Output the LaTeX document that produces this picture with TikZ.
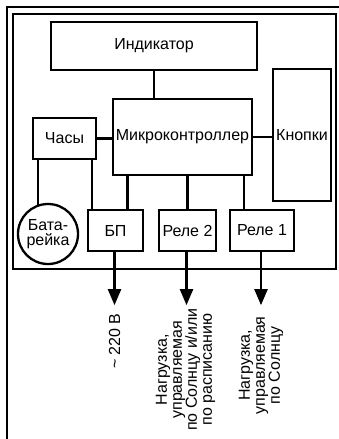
\documentclass[tikz,border=0pt]{standalone}
\usepackage{fontspec}
\setmainfont{Liberation Sans}
\usepackage{tikz}
\usetikzlibrary{positioning}
\usetikzlibrary{arrows.meta,shapes}
\usetikzlibrary{calc}
\tikzstyle{block}=[rectangle,draw,line width=2.3pt,inner sep=0pt,align=center,font=\fontsize{16}{16}\selectfont]
\tikzstyle{roundblock}=[circle,draw,line width=2.3pt,inner sep=0pt,minimum size=60pt,align=center,font=\fontsize{16}{15}\selectfont]
\tikzstyle{undirectededge}=[draw,line width=2.3pt]
\tikzstyle{edge}=[draw,line width=2.3pt,-{Triangle[width=13pt,length=16pt]}]
\tikzset{outlabel/.style={rotate=90,anchor=east,inner sep=0pt,align=center,font=\fontsize{16}{15}\selectfont}}

\begin{document}
\begin{tikzpicture}[x=1pt,y=-1pt]

 \useasboundingbox (0,0) rectangle (339,439);

 %frame
 \draw[line width=2.3pt] (7,439) -- (7,7) -- (339,7);
 \node[rectangle,draw,line width=2.3pt,minimum width=323pt,minimum height=255pt] (board) at (174.5,141.5) {};

 %top blocks
 \node[block,minimum width=206pt,minimum height=48pt] (ind) at (154,46) {Индикатор};
 \node[block,minimum width=139pt,minimum height=76pt] (mc) at (182.5,137) {Микроконтроллер};
 \node[block,minimum width=58pt,minimum height=132pt] (btn) at (302,135) {Кнопки};
 \node[block,minimum width=63pt,minimum height=41pt] (clk) at (64.5,138.5) {Часы};
 \node[roundblock] (bat) at (48,234) {Бата-\\рейка};

 %bottom blocks
   \foreach \x/\w/\name/\label in {115.5/55/bp/БП, 187.5/57/relb/Реле 2, 262/64/rela/Реле 1}
          \node[block,minimum width=\w pt,minimum height=41pt] (\name) at (\x, 230.5) {\label};

 %wires
  \foreach \source/ \dest in {ind.south/ind.south |- mc.north, clk.east/clk.east -| mc.west, mc.east/mc.east -| btn.west,
                              bat.109/bat.109 |- clk.south, relb.north/relb.north |- mc.south}
         \path[undirectededge] (\source) -- (\dest);

  \path[undirectededge] ([xshift=-23.5pt]bp.north) -- ([xshift=-23.5pt]bp.north |- clk.south);
  \path[undirectededge] ([xshift=12pt]bp.north) -- ([xshift=12pt]bp.north |- mc.south);
  \path[undirectededge] ([xshift=-18pt]rela.north) -- ([xshift=-18pt]rela.north |- mc.south);

 %outputs
  \foreach \name/\out in {bp/o1, relb/o2, rela/o3}
         \coordinate (\out) at ($(\name.south)+(-1,53)$);

  \foreach \name/\out in {bp/o1, relb/o2, rela/o3}
         \path[edge] (\name.south -| \out) -- (\out);

  \node[outlabel] (l1) at ($(o1)+(0,8)$) {\textasciitilde{} 220 В};
  \node[outlabel] (l2) at ($(o2)+(-1,3)$) {Нагрузка,\\управляемая\\по Солнцу и/или\\по расписанию};
  \node[outlabel] (l3) at ($(o3)+(0,11)$) {Нагрузка,\\управляемая\\по Солнцу};

\end{tikzpicture}
\end{document}
